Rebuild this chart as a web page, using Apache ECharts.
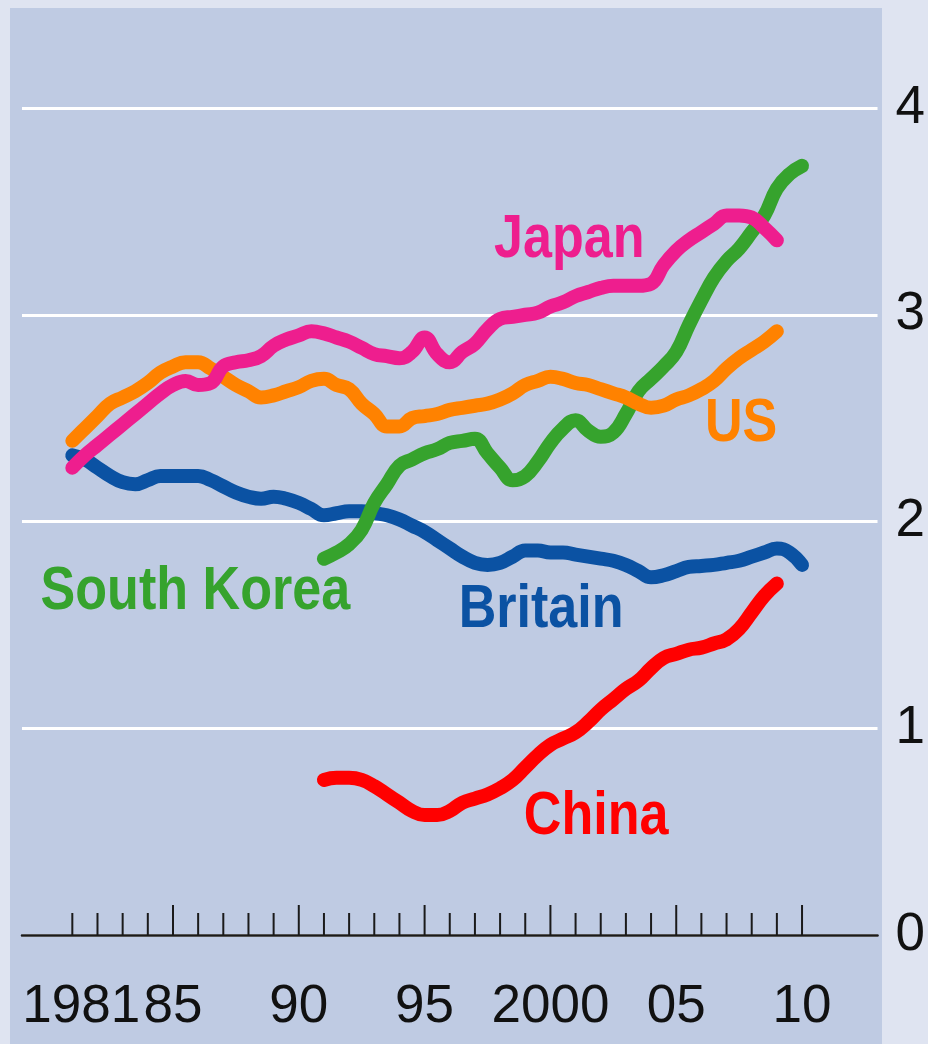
<!DOCTYPE html>
<html>
<head>
<meta charset="utf-8">
<script src="https://cdn.jsdelivr.net/npm/echarts@6/dist/echarts.min.js"></script>
<style>
  html, body { margin: 0; padding: 0; background: #dfe4f1; }
  #wrap { position: relative; width: 928px; height: 1044px; overflow: hidden; }
  #panel { position: absolute; left: 10px; top: 8px; width: 872px; height: 1036px; background: #bfcbe3; }
  #chart { position: absolute; left: 0; top: 0; width: 928px; height: 1044px; }
</style>
</head>
<body>
<div id="wrap"><div id="panel"></div><div id="chart"></div></div>
<script>
// Half-year sample points
const years = [1981,1981.5,1982,1982.5,1983,1983.5,1984,1984.5,1985,1985.5,1986,1986.5,1987,1987.5,1988,1988.5,1989,1989.5,1990,1990.5,
  1991,1991.5,1992,1992.5,1993,1993.5,1994,1994.5,1995,1995.5,1996,1996.5,1997,1997.5,1998,1998.5,1999,1999.5,2000,2000.5,
  2001,2001.5,2002,2002.5,2003,2003.5,2004,2004.5,2005,2005.5,2006,2006.5,2007,2007.5,2008,2008.5,2009,2009.5,2010];

const japan = [2.26,2.32,2.37,2.42,2.47,2.52,2.57,2.62,2.66,2.68,2.66,2.67,2.75,2.77,2.78,2.80,2.85,2.88,2.90,2.92,
  2.91,2.89,2.87,2.84,2.81,2.80,2.79,2.82,2.89,2.81,2.77,2.82,2.86,2.93,2.98,2.99,3.00,3.01,3.04,3.06,
  3.09,3.11,3.13,3.14,3.14,3.14,3.15,3.24,3.31,3.36,3.40,3.44,3.48,3.48,3.47,3.42,3.36,null,null];

const us = [2.39,2.45,2.51,2.57,2.60,2.63,2.67,2.72,2.75,2.77,2.77,2.74,2.70,2.66,2.63,2.60,2.61,2.63,2.65,2.68,
  2.69,2.66,2.64,2.57,2.52,2.46,2.46,2.50,2.51,2.52,2.54,2.55,2.56,2.57,2.59,2.62,2.66,2.68,2.70,2.69,
  2.67,2.66,2.64,2.62,2.60,2.57,2.55,2.56,2.59,2.61,2.64,2.68,2.74,2.79,2.83,2.87,2.92,null,null];

const britain = [2.32,2.30,2.26,2.22,2.19,2.18,2.20,2.22,2.22,2.22,2.22,2.20,2.17,2.14,2.12,2.11,2.12,2.11,2.09,2.06,
  2.03,2.04,2.05,2.05,2.04,2.03,2.01,1.98,1.95,1.91,1.87,1.83,1.80,1.79,1.80,1.83,1.86,1.86,1.85,1.85,
  1.84,1.83,1.82,1.81,1.79,1.76,1.73,1.74,1.76,1.78,1.785,1.79,1.80,1.81,1.83,1.85,1.87,1.85,1.79];

const southKorea = [null,null,null,null,null,null,null,null,null,null,null,null,null,null,null,null,null,null,null,null,
  1.82,1.85,1.89,1.96,2.09,2.18,2.27,2.30,2.33,2.35,2.38,2.39,2.40,2.33,2.26,2.20,2.22,2.29,2.38,2.45,
  2.49,2.44,2.41,2.43,2.52,2.63,2.69,2.75,2.82,2.95,3.07,3.18,3.26,3.32,3.40,3.48,3.61,3.68,3.72];

const china = [null,null,null,null,null,null,null,null,null,null,null,null,null,null,null,null,null,null,null,null,
  0.75,0.76,0.76,0.75,0.72,0.68,0.64,0.60,0.58,0.58,0.60,0.64,0.66,0.68,0.71,0.75,0.81,0.87,0.92,0.95,
  0.98,1.03,1.09,1.14,1.19,1.23,1.29,1.34,1.36,1.38,1.39,1.41,1.43,1.48,1.56,1.64,1.70,null,null];

// Axis ticks and labels
const tickYears = [1981,1982,1983,1984,1985,1986,1987,1988,1989,1990,1991,1992,1993,1994,1995,
  1996,1997,1998,1999,2000,2001,2002,2003,2004,2005,2006,2007,2008,2009,2010];
const xLabelYears = [1981,1985,1990,1995,2000,2005,2010];
const xLabelTexts = ['1981','85','90','95','2000','05','10'];
const yTicks = [0,1,2,3,4];

// Series name label anchors [year, value]
const seriesNames = ['Japan','US','South Korea','Britain','China'];
const seriesLabelPos = [[2000.75, 3.36],[2007.58, 2.47],[1985.89, 1.66],[1999.63, 1.57],[2001.82, 0.57]];
const seriesColors = ['#ee1e8e','#ff8200','#36a32d','#0b52a3','#ff0000'];

const AXIS_FONT = '"Liberation Sans", Arial, sans-serif';
const LABEL_FONT = '"Liberation Sans", Arial, sans-serif';

function pairs(vals) {
  return years.map((y, i) => [y, vals[i]]);
}

function mkSeries(name, vals, color, z) {
  return {
    name: name,
    type: 'line',
    data: pairs(vals),
    smooth: 0.45,
    showSymbol: false,
    symbol: 'none',
    connectNulls: false,
    z: z,
    silent: true,
    lineStyle: { color: color, width: 14, cap: 'round', join: 'round' }
  };
}

const chart = echarts.init(document.getElementById('chart'), null, { renderer: 'canvas' });

const labelMap = {};
xLabelYears.forEach((y, i) => labelMap[y] = xLabelTexts[i]);

const option = {
  backgroundColor: 'transparent',
  animation: false,
  grid: { left: 22, right: 50, top: 108, bottom: 109, containLabel: false },
  xAxis: {
    type: 'value',
    min: 1979,
    max: 2013,
    interval: 1,
    z: 5,
    splitLine: { show: false },
    axisTick: { show: false },
    axisLine: { show: true, onZero: false, lineStyle: { color: '#1a1a1a', width: 2.5 } },
    axisLabel: {
      show: true,
      margin: 46,
      fontFamily: AXIS_FONT,
      fontSize: 53,
      color: '#111',
      showMinLabel: true,
      showMaxLabel: true,
      formatter: function (v) {
        const t = labelMap[Math.round(v)];
        if (!t) return '';
        if (t === '1981') return '{s|1981}';
        return t;
      },
      rich: {
        s: { fontFamily: AXIS_FONT, fontSize: 53, color: '#111', padding: [0, 0, 0, 18] }
      }
    }
  },
  yAxis: {
    type: 'value',
    position: 'right',
    min: 0,
    max: 4,
    interval: 1,
    z: 1,
    axisLine: { show: false },
    axisTick: { show: false },
    splitLine: { show: true, lineStyle: { color: '#ffffff', width: 3 } },
    axisLabel: {
      margin: 18,
      fontFamily: AXIS_FONT,
      fontSize: 53,
      color: '#111',
      formatter: function (v) { return yTicks.indexOf(v) >= 0 ? String(v) : ''; }
    }
  },
  series: [
    {
      name: 'ticks',
      type: 'custom',
      silent: true,
      z: 6,
      data: tickYears.map(y => [y, 0]),
      renderItem: function (params, api) {
        const yr = api.value(0);
        const p = api.coord([yr, 0]);
        const len = (yr % 5 === 0) ? 30 : 22;
        return {
          type: 'line',
          shape: { x1: p[0], y1: p[1], x2: p[0], y2: p[1] - len },
          style: { stroke: '#1a1a1a', lineWidth: 2 }
        };
      }
    },
    mkSeries('Britain', britain, '#0b52a3', 2),
    mkSeries('South Korea', southKorea, '#36a32d', 3),
    mkSeries('US', us, '#ff8200', 4),
    mkSeries('Japan', japan, '#ee1e8e', 5),
    mkSeries('China', china, '#ff0000', 6)
  ]
};

chart.setOption(option);

// Series name labels, placed through the chart's own coordinate system, condensed horizontally
const graphics = seriesNames.map((name, i) => {
  const p = chart.convertToPixel({ gridIndex: 0 }, seriesLabelPos[i]);
  return {
    type: 'text',
    x: p[0],
    y: p[1],
    scaleX: 0.84,
    scaleY: 1,
    z: 20,
    silent: true,
    style: {
      text: name,
      fill: seriesColors[i],
      fontFamily: LABEL_FONT,
      fontWeight: 'bold',
      fontSize: 62,
      align: 'center',
      verticalAlign: 'middle',
      textAlign: 'center',
      textVerticalAlign: 'middle'
    }
  };
});
chart.setOption({ graphic: graphics });
</script>
</body>
</html>
